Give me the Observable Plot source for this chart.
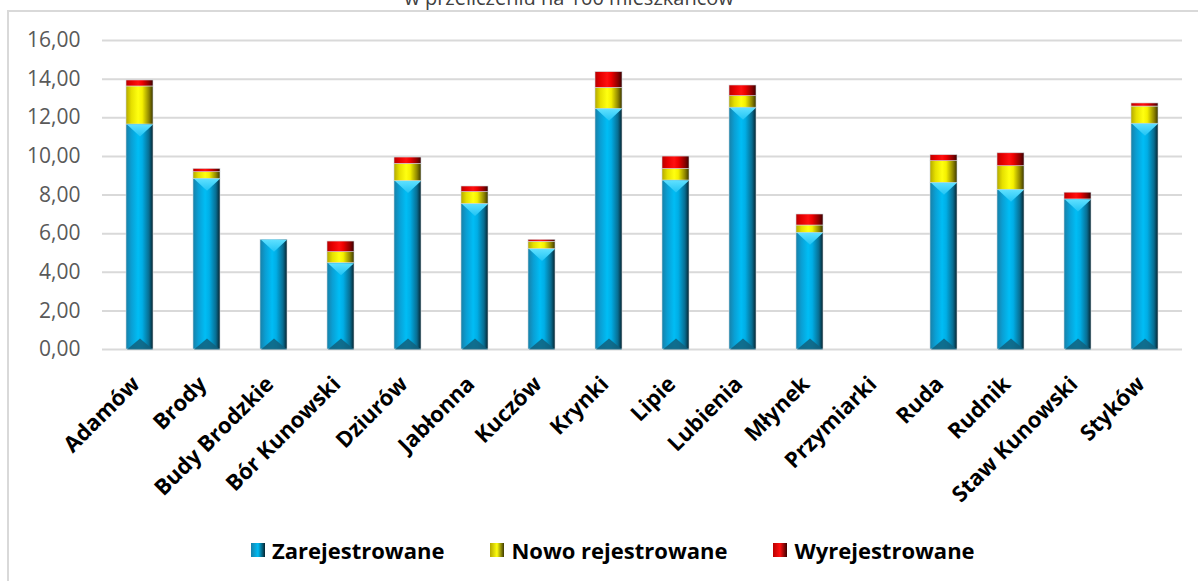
<!DOCTYPE html>
<html>
<head>
<meta charset="utf-8">
<script src="https://cdn.jsdelivr.net/npm/d3@7"></script>
<script src="https://cdn.jsdelivr.net/npm/@observablehq/plot@0.6"></script>
<style>
  html, body { margin: 0; padding: 0; background: #fff; }
  #wrap { position: relative; width: 1198px; height: 581px; overflow: hidden; font-family: "Open Sans", sans-serif; }
  #frame { position: absolute; left: 7px; top: 10px; width: 1300px; height: 700px; border-left: 2px solid #d9d9d9; border-top: 2px solid #d9d9d9; }
  #title { position: absolute; left: 0; top: -13px; width: 1138px; text-align: center; font-size: 20px; line-height: 22px; color: #404040; }
  #chart { position: absolute; left: 0; top: 0; }
  #legend { position: absolute; left: 251px; top: 538px; display: flex; align-items: center; font-weight: bold; font-size: 22px; color: #000; line-height: 24px; }
  .item { display: flex; align-items: center; margin-right: 46px; }
  .sw { width: 14px; height: 14px; margin-right: 7px; }
</style>
</head>
<body>
<div id="wrap">
  <div id="frame"></div>
  <div id="title">w przeliczeniu na 100 mieszkańców</div>
  <div id="chart"></div>
  <div id="legend"></div>
</div>
<script>
const categories = ["Adamów","Brody","Budy Brodzkie","Bór Kunowski","Dziurów","Jabłonna","Kuczów","Krynki","Lipie","Lubienia","Młynek","Przymiarki","Ruda","Rudnik","Staw Kunowski","Styków"];
const series = ["Zarejestrowane","Nowo rejestrowane","Wyrejestrowane"];
const zarejestrowane = [11.65, 8.84, 5.68, 4.47, 8.72, 7.54, 5.20, 12.46, 8.75, 12.52, 6.04, 0, 8.63, 8.27, 7.77, 11.69];
const nowoRejestrowane = [1.97, 0.34, 0, 0.57, 0.89, 0.61, 0.38, 1.09, 0.60, 0.60, 0.38, 0, 1.12, 1.22, 0, 0.89];
const wyrejestrowane = [0.31, 0.17, 0, 0.55, 0.33, 0.29, 0.10, 0.81, 0.64, 0.55, 0.57, 0, 0.31, 0.67, 0.35, 0.16];
const yTicks = [0, 2, 4, 6, 8, 10, 12, 14, 16];

const columns = [zarejestrowane, nowoRejestrowane, wyrejestrowane];
const data = [];
categories.forEach((c, i) => {
  series.forEach((s, j) => data.push({category: c, series: s, value: columns[j][i]}));
});
const blueTops = categories.map((c, i) => ({category: c, value: zarejestrowane[i]})).filter(d => d.value > 0);

const fills = ["url(#gZ)", "url(#gN)", "url(#gW)"];

// bevel chevrons (Excel-like 3D effect) drawn as flat triangle symbols
const chevronDown = {draw(ctx) { ctx.moveTo(-13, 0); ctx.lineTo(13, 0); ctx.lineTo(0, 12); ctx.closePath(); }};
const chevronUp = {draw(ctx) { ctx.moveTo(-13, 0); ctx.lineTo(13, 0); ctx.lineTo(0, -11); ctx.closePath(); }};

const chart = Plot.plot({
  width: 1198,
  height: 520,
  marginTop: 40,
  marginBottom: 171,
  marginLeft: 102,
  marginRight: 16,
  style: {fontFamily: "'Open Sans', sans-serif", background: "transparent"},
  x: {domain: categories, paddingInner: 0.6, paddingOuter: 0.3},
  y: {domain: [0, 16]},
  color: {domain: series, range: fills},
  marks: [
    Plot.gridY(yTicks, {stroke: "#d9d9d9", strokeOpacity: 1, strokeWidth: 2}),
    Plot.barY(data, {x: "category", y: "value", fill: "series", stroke: "#d0d8dc", strokeWidth: 0.6}),
    Plot.dot(blueTops, {x: "category", y: "value", symbol: chevronDown, fill: "url(#gTop)", stroke: "none"}),
    Plot.dot(blueTops, {x: "category", y: () => 0, symbol: chevronUp, fill: "#12607c", fillOpacity: 0.85, stroke: "none"}),
    Plot.axisY(yTicks, {tickSize: 0, tickPadding: 22, label: null, fontSize: 21, fill: "#595959",
      tickFormat: d => d.toFixed(2).replace(".", ",")}),
    Plot.axisX({tickSize: 0, tickPadding: 31, tickRotate: -45, label: null, fontSize: 22, fontWeight: "bold", fill: "#000", dx: -4})
  ]
});

const defs = `
<defs>
  <linearGradient id="gZ" x1="0" x2="1" y1="0" y2="0">
    <stop offset="0" stop-color="#1780a8"/>
    <stop offset="0.2" stop-color="#0a9fd4"/>
    <stop offset="0.45" stop-color="#00bdf5"/>
    <stop offset="0.6" stop-color="#00aee6"/>
    <stop offset="0.85" stop-color="#086d91"/>
    <stop offset="1" stop-color="#06232e"/>
  </linearGradient>
  <linearGradient id="gTop" x1="0" x2="0" y1="0" y2="1">
    <stop offset="0" stop-color="#5fe0ff"/>
    <stop offset="1" stop-color="#20c4f5"/>
  </linearGradient>
  <linearGradient id="gN" x1="0" x2="1" y1="0" y2="0">
    <stop offset="0" stop-color="#b3a800"/>
    <stop offset="0.2" stop-color="#e6e000"/>
    <stop offset="0.45" stop-color="#ffff10"/>
    <stop offset="0.6" stop-color="#f5f000"/>
    <stop offset="0.85" stop-color="#8f8600"/>
    <stop offset="1" stop-color="#3d3800"/>
  </linearGradient>
  <linearGradient id="gW" x1="0" x2="1" y1="0" y2="0">
    <stop offset="0" stop-color="#b80000"/>
    <stop offset="0.2" stop-color="#e60000"/>
    <stop offset="0.45" stop-color="#ff1010"/>
    <stop offset="0.6" stop-color="#f00000"/>
    <stop offset="0.85" stop-color="#8a0000"/>
    <stop offset="1" stop-color="#3a0000"/>
  </linearGradient>
</defs>`;
chart.insertAdjacentHTML("afterbegin", defs);
document.getElementById("chart").appendChild(chart);

const swatchCss = [
  "linear-gradient(90deg, #1780a8, #00bdf5 50%, #06232e)",
  "linear-gradient(90deg, #b3a800, #ffff10 50%, #3d3800)",
  "linear-gradient(90deg, #b80000, #ff1010 50%, #3a0000)"
];
const legend = document.getElementById("legend");
series.forEach((s, i) => {
  const it = document.createElement("div");
  it.className = "item";
  const sw = document.createElement("div");
  sw.className = "sw";
  sw.style.background = swatchCss[i];
  const t = document.createElement("span");
  t.textContent = s;
  it.appendChild(sw); it.appendChild(t);
  legend.appendChild(it);
});
</script>
</body>
</html>
